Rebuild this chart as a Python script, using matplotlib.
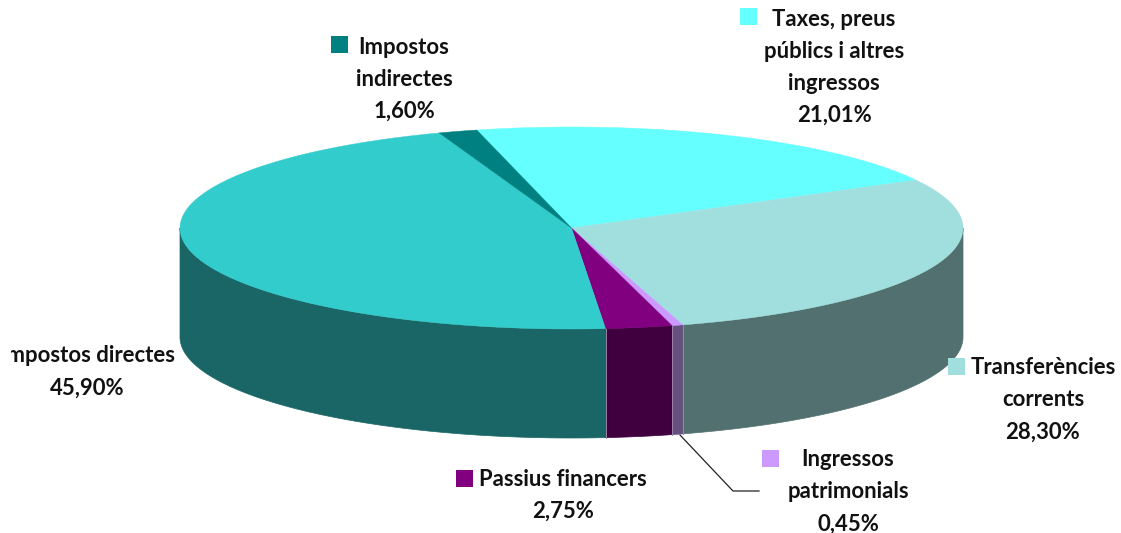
import numpy as np
import matplotlib
matplotlib.use('Agg')
import matplotlib.pyplot as plt
from matplotlib.patches import Polygon, Rectangle

# clockwise from the start angle, as in the source pie
names = ['Taxes', 'Transferencies', 'Ingressos', 'Passius', 'Directes', 'Indirectes']
values = [21.01, 28.30, 0.45, 2.75, 45.90, 1.60]
top_colors = ['#66FFFF', '#A1DFDF', '#CC99FF', '#800080', '#33CCCC', '#008080']
side_colors = ['#338080', '#51706F', '#66507F', '#400040', '#1A6666', '#004040']

label_lines = [
    ['Taxes, preus', 'públics i altres', 'ingressos', '21,01%'],
    ['Transferències', 'corrents', '28,30%'],
    ['Ingressos', 'patrimonials', '0,45%'],
    ['Passius financers', '2,75%'],
    ['Impostos directes', '45,90%'],
    ['Impostos', 'indirectes', '1,60%'],
]
label_pos = [(834, 19), (1043, 368), (848, 460), (563, 479), (87, 356), (404, 47)]
key_pos = [(740, 8), (948, 358), (762, 450), (456, 470), None, (331, 36)]

W, H = 1121, 533
CX, CY, RX, RY, DEPTH = 571.5, 228, 391.5, 101, 109
START = 104.0
LINE_H = 32


def rim(t):
    t = np.radians(t)
    return CX + RX * np.cos(t), CY - RY * np.sin(t)


def main():
    plt.rcParams['font.family'] = ['Lato', 'DejaVu Sans']
    fig = plt.figure(figsize=(W / 100, H / 100), dpi=100)
    ax = fig.add_axes([0, 0, 1, 1])
    ax.set_xlim(0, W)
    ax.set_ylim(H, 0)
    ax.axis('off')

    fracs = np.array(values) / sum(values) * 360
    ends = START - np.cumsum(fracs)
    starts = ends + fracs

    # side walls, only the part of each slice facing front
    for t0, t1, c in zip(starts, ends, side_colors):
        for lo, hi in [(t0, t1), (t0 + 360, t1 + 360)]:
            # front of the disc is 180..360 in parametric angle
            a = min(lo, 360)
            b = max(hi, 180)
            if a <= b:
                continue
            ts = np.linspace(a, b, 120)
            x, y = rim(ts)
            pts = np.r_[np.c_[x, y], np.c_[x, y + DEPTH][::-1]]
            ax.add_patch(Polygon(pts, closed=True, fc=c, ec=c, lw=0.5, zorder=2))

    # thin light seams between the front walls
    for t in ends:
        if np.sin(np.radians(t)) < -0.5:
            x, y = rim(t)
            ax.plot([x, x], [y, y + DEPTH], color='#9C85A8', lw=0.7, zorder=2.5)

    # top face
    for t0, t1, c in zip(starts, ends, top_colors):
        ts = np.linspace(t0, t1, 200)
        x, y = rim(ts)
        pts = np.r_[[[CX, CY]], np.c_[x, y]]
        ax.add_patch(Polygon(pts, closed=True, fc=c, ec=c, lw=0.3, zorder=3))

    # leader line of the small slice
    ax.plot([680, 733, 759], [435, 491, 491], color='#222222', lw=0.9, zorder=4)

    clip = Rectangle((11, 0), W, H, transform=ax.transData)
    for lines, (lx, ly), key, c in zip(label_lines, label_pos, key_pos, top_colors):
        for i, s in enumerate(lines):
            t = ax.text(lx, ly + i * LINE_H, s, ha='center', va='center',
                        fontsize=15.9, fontweight='bold', color='#111111', zorder=5)
            t.set_clip_path(clip)
            t.set_clip_on(True)
        if key is not None:
            ax.add_patch(Rectangle(key, 17, 17, fc=c, ec='none', zorder=5))

    fig.savefig('out.png', dpi=100, facecolor='white')


if __name__ == '__main__':
    main()
